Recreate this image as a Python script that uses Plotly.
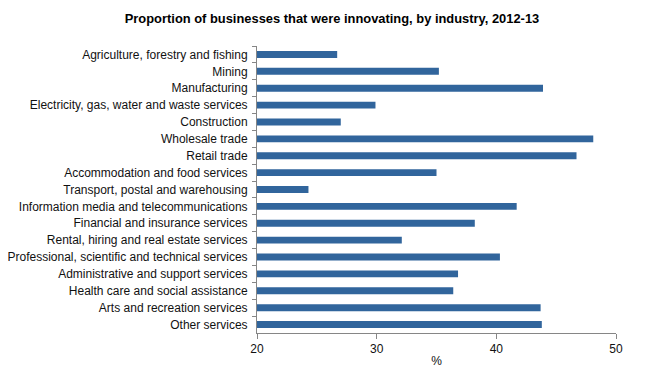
import plotly.graph_objects as go

industries = [
    "Agriculture, forestry and fishing",
    "Mining",
    "Manufacturing",
    "Electricity, gas, water and waste services",
    "Construction",
    "Wholesale trade",
    "Retail trade",
    "Accommodation and food services",
    "Transport, postal and warehousing",
    "Information media and telecommunications",
    "Financial and insurance services",
    "Rental, hiring and real estate services",
    "Professional, scientific and technical services",
    "Administrative and support services",
    "Health care and social assistance",
    "Arts and recreation services",
    "Other services",
]
values = [26.7, 35.2, 43.9, 29.9, 27.0, 48.1, 46.7, 35.0, 24.3,
          41.7, 38.2, 32.1, 40.3, 36.8, 36.4, 43.7, 43.8]
x_ticks = [20, 30, 40, 50]

fig = go.Figure(go.Bar(
    x=values, y=industries, orientation="h",
    marker=dict(color="#31659C", line=dict(width=0)),
))

fig.update_layout(
    width=648, height=370,
    margin=dict(l=249, r=40, t=38, b=45, autoexpand=False),
    paper_bgcolor="white", plot_bgcolor="white",
    font=dict(family="Liberation Sans, Arial, sans-serif", size=12, color="#111111"),
    title=dict(text="<b>Proportion of businesses that were innovating, by industry, 2012-13</b>",
               x=0.5, xanchor="center", y=0.972, yanchor="middle",
               font=dict(size=12.9, color="#000000")),
    bargap=0.59,
    showlegend=False,
)
fig.update_xaxes(
    range=[20, 50], tickvals=x_ticks, ticktext=[str(v) for v in x_ticks],
    showgrid=False, zeroline=False,
    showline=True, linecolor="#868686", linewidth=1,
    ticks="outside", ticklen=5, tickcolor="#868686",
    tickfont=dict(size=12, color="#111111"),
    title=dict(text="%", standoff=1, font=dict(size=12)),
)
fig.update_yaxes(
    autorange="reversed", type="category",
    showgrid=False, zeroline=False,
    showline=True, linecolor="#868686", linewidth=1,
    ticks="outside", ticklen=4, tickcolor="#868686", tickson="boundaries",
    tickfont=dict(size=12, color="#111111"), ticklabelstandoff=6,
)

fig.write_html("out.html")
